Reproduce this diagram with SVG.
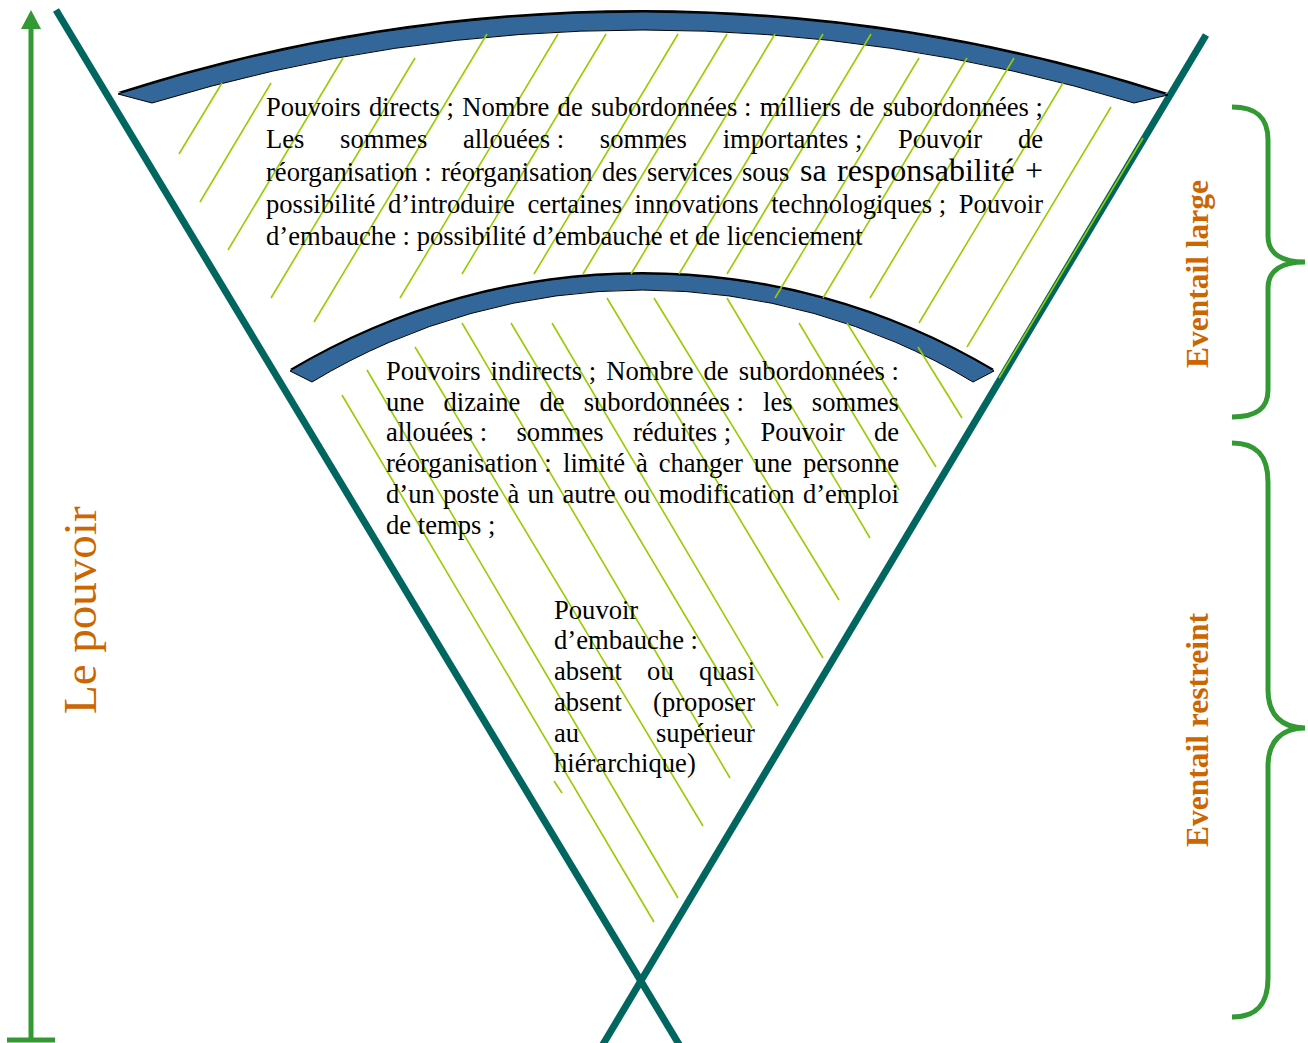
<svg xmlns="http://www.w3.org/2000/svg" width="1308" height="1043" viewBox="0 0 1308 1043">
<style>
.teal{stroke:#00665F;stroke-width:7;fill:none}
.hatch{stroke:#99CC00;stroke-width:1.6;fill:none}
.band{fill:#336699;stroke:#000;stroke-width:1}
.shadow{fill:#000}
.green{stroke:#339933;stroke-width:5;fill:none}
.t{font-family:"Liberation Serif","Times New Roman",serif;font-size:26.6px;fill:#000}
.big{font-size:32px}
.lbl{font-family:"Liberation Serif","Times New Roman",serif;fill:#CC6600}
.lb{font-weight:bold;font-size:31.5px}
</style>
<rect width="1308" height="1043" fill="#fff"/>
<g id="axis-pouvoir">
<line class="green" x1="31" y1="1040" x2="31" y2="26"/>
<polygon points="31,10 21,29 41,29" fill="#339933"/>
<line class="green" x1="7" y1="1040" x2="55" y2="1040"/>
<text class="lbl" font-size="47" transform="translate(96,714) rotate(-90)">Le pouvoir</text>
</g>
<g id="fan-edges">
<line class="teal" x1="56" y1="10" x2="680" y2="1046"/>
<line class="teal" x1="1206" y1="35" x2="602" y2="1046"/>
</g>
<g id="band-top">
<path class="shadow" transform="translate(0,-2)" d="M118,94 A1712,1712 0 0 1 1168,95 L1134,103 A1688,1688 0 0 0 152,103 Z"/>
<path class="band" d="M118,94 A1712,1712 0 0 1 1168,95 L1134,103 A1688,1688 0 0 0 152,103 Z"/>
</g>
<g id="band-bottom">
<path class="shadow" transform="translate(0,-2)" d="M290,371 A687,687 0 0 1 994,371 L973,382 A640,640 0 0 0 312,382 Z"/>
<path class="band" d="M290,371 A687,687 0 0 1 994,371 L973,382 A640,640 0 0 0 312,382 Z"/>
</g>
<g id="hatch-top">
<line class="hatch" x1="222" y1="83" x2="179" y2="154"/>
<line class="hatch" x1="271" y1="83" x2="200" y2="202"/>
<line class="hatch" x1="343" y1="58" x2="228" y2="250"/>
<line class="hatch" x1="415" y1="58" x2="271" y2="298"/>
<line class="hatch" x1="487" y1="34" x2="314" y2="322"/>
<line class="hatch" x1="558" y1="34" x2="400" y2="298"/>
<line class="hatch" x1="606" y1="34" x2="462" y2="274"/>
<line class="hatch" x1="678" y1="34" x2="534" y2="274"/>
<line class="hatch" x1="727" y1="34" x2="583" y2="274"/>
<line class="hatch" x1="775" y1="34" x2="631" y2="274"/>
<line class="hatch" x1="823" y1="34" x2="679" y2="274"/>
<line class="hatch" x1="871" y1="34" x2="727" y2="274"/>
<line class="hatch" x1="919" y1="58" x2="775" y2="298"/>
<line class="hatch" x1="967" y1="58" x2="823" y2="298"/>
<line class="hatch" x1="1014" y1="58" x2="870" y2="298"/>
<line class="hatch" x1="1063" y1="83" x2="919" y2="323"/>
<line class="hatch" x1="1111" y1="107" x2="967" y2="347"/>
<line class="hatch" x1="1143" y1="138" x2="999" y2="378"/>
</g>
<g id="hatch-bottom">
<line class="hatch" x1="342" y1="395" x2="654" y2="922"/>
<line class="hatch" x1="367" y1="370" x2="678" y2="898"/>
<line class="hatch" x1="415" y1="347" x2="703" y2="826"/>
<line class="hatch" x1="462" y1="323" x2="730" y2="778"/>
<line class="hatch" x1="511" y1="323" x2="752" y2="728"/>
<line class="hatch" x1="552" y1="323" x2="778" y2="706"/>
<line class="hatch" x1="607" y1="298" x2="823" y2="658"/>
<line class="hatch" x1="654" y1="298" x2="839" y2="600"/>
<line class="hatch" x1="727" y1="298" x2="870" y2="538"/>
<line class="hatch" x1="799" y1="323" x2="899" y2="490"/>
<line class="hatch" x1="847" y1="323" x2="936" y2="467"/>
<line class="hatch" x1="918" y1="347" x2="962" y2="418"/>
<line class="hatch" x1="554" y1="781" x2="562" y2="793"/>
</g>
<g id="text-large">
<text class="t" y="116"><tspan x="266">Pouvoirs</tspan><tspan x="368.9">directs ;</tspan><tspan x="462.2">Nombre</tspan><tspan x="557.6">de</tspan><tspan x="591">subordonnées :</tspan><tspan x="759.7">milliers</tspan><tspan x="849.2">de</tspan><tspan x="882.7">subordonnées ;</tspan></text>
<text class="t" y="148"><tspan x="266">Les</tspan><tspan x="340.1">sommes</tspan><tspan x="462.9">allouées :</tspan><tspan x="599.8">sommes</tspan><tspan x="722.7">importantes ;</tspan><tspan x="898">Pouvoir</tspan><tspan x="1017.9">de</tspan></text>
<text class="t" y="181"><tspan x="266">réorganisation :</tspan><tspan x="441">réorganisation</tspan><tspan x="602">des</tspan><tspan x="647">services</tspan><tspan x="742">sous</tspan><tspan class="big" x="800">sa</tspan><tspan class="big" x="837">responsabilité</tspan><tspan class="big" x="1025">+</tspan></text>
<text class="t" y="213"><tspan x="266">possibilité</tspan><tspan x="387.9">d’introduire</tspan><tspan x="527.5">certaines</tspan><tspan x="634.5">innovations</tspan><tspan x="771.2">technologiques ;</tspan><tspan x="958.8">Pouvoir</tspan></text>
<text class="t" x="266" y="245">d’embauche : possibilité d’embauche et de licenciement</text>
</g>
<g id="text-restricted">
<text class="t" y="380"><tspan x="386">Pouvoirs</tspan><tspan x="490.6">indirects ;</tspan><tspan x="606.3">Nombre</tspan><tspan x="703.5">de</tspan><tspan x="738.7">subordonnées :</tspan></text>
<text class="t" y="411"><tspan x="386">une</tspan><tspan x="443.5">dizaine</tspan><tspan x="539.5">de</tspan><tspan x="583.7">subordonnées :</tspan><tspan x="763.1">les</tspan><tspan x="811.8">sommes</tspan></text>
<text class="t" y="441"><tspan x="386">allouées :</tspan><tspan x="516.5">sommes</tspan><tspan x="632.9">réduites ;</tspan><tspan x="760.4">Pouvoir</tspan><tspan x="873.9">de</tspan></text>
<text class="t" y="472"><tspan x="386">réorganisation :</tspan><tspan x="563.1">limité</tspan><tspan x="636">à</tspan><tspan x="658.7">changer</tspan><tspan x="753.7">une</tspan><tspan x="803">personne</tspan></text>
<text class="t" y="503"><tspan x="386">d’un</tspan><tspan x="443">poste</tspan><tspan x="507.5">à</tspan><tspan x="527.5">un</tspan><tspan x="562.4">autre</tspan><tspan x="623.8">ou</tspan><tspan x="658.7">modification</tspan><tspan x="802.9">d’emploi</tspan></text>
<text class="t" x="386" y="534">de temps ;</text>
</g>
<g id="text-embauche">
<text class="t" x="554" y="619">Pouvoir</text>
<text class="t" x="554" y="649">d’embauche :</text>
<text class="t" y="680"><tspan x="554">absent</tspan><tspan x="647.1">ou</tspan><tspan x="698.9">quasi</tspan></text>
<text class="t" y="711"><tspan x="554">absent</tspan><tspan x="653.1">(proposer</tspan></text>
<text class="t" y="742"><tspan x="554">au</tspan><tspan x="656">supérieur</tspan></text>
<text class="t" x="554" y="772">hiérarchique)</text>
</g>
<g id="brace-large">
<path class="green" d="M1232,107 C1256,107 1268,117 1268,140 L1268,236 C1268,254 1282,262 1305,262 C1282,262 1268,270 1268,288 L1268,390 C1268,409 1256,417 1232,417"/>
<text class="lbl lb" text-anchor="middle" transform="translate(1208,274) rotate(-90)">Eventail large</text>
</g>
<g id="brace-restreint">
<path class="green" d="M1232,443 C1256,443 1268,455 1268,482 L1268,690 C1268,715 1282,728 1305,728 C1282,728 1268,741 1268,766 L1268,978 C1268,1005 1256,1017 1232,1017"/>
<text class="lbl lb" text-anchor="middle" transform="translate(1208,730) rotate(-90)">Eventail restreint</text>
</g>
</svg>
